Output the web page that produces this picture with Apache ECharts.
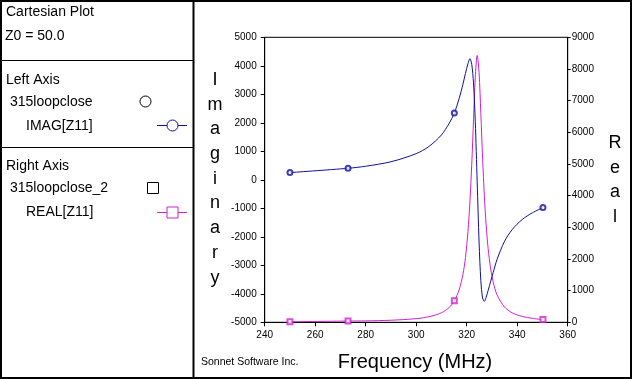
<!DOCTYPE html>
<html>
<head>
<meta charset="utf-8">
<script src="https://cdn.jsdelivr.net/npm/echarts@6/dist/echarts.min.js"></script>
<style>
html,body{margin:0;padding:0;background:#fff;}
#c{width:632px;height:379px;}
</style>
</head>
<body>
<div id="c"></div>
<script>
// Frequency sweep (MHz)
const freq = [250, 273, 280, 290, 300, 305, 310, 313, 315.1, 317, 318.5, 319.5, 320.5, 321.3, 322, 322.7, 323.4, 324.15, 324.9, 325.6, 326.3, 327, 327.7, 328.5, 329.5, 330.5, 332, 335, 338, 342, 346, 350.2];
// IMAG[Z11] (left axis)
const imagZ11 = [253, 404, 476, 633, 918, 1167, 1574, 1972, 2340, 2853, 3350, 3730, 4076, 4250, 4048, 3399, 2047, -70, -2187, -3539, -4150, -4263, -4120, -3880, -3560, -3250, -2799, -2156, -1749, -1392, -1159, -975];
// REAL[Z11] (right axis)
const realZ11 = [15, 40, 45, 65, 115, 175, 300, 465, 680, 1020, 1510, 2040, 2860, 3840, 4990, 6390, 7730, 8425, 7880, 6590, 5180, 3980, 3070, 2320, 1686, 1268, 870, 480, 300, 185, 125, 85];
// indices of sweep points that carry markers
const markerIdx = [0, 1, 8, 31];
const xTicks = {min: 240, max: 360, interval: 20};
const leftTicks = {min: -5000, max: 5000, interval: 1000};
const rightTicks = {min: 0, max: 9000, interval: 1000};

const BLUE = '#10109a';
const MAG = '#d020d0';
const FONT = 'Liberation Sans, Arial, sans-serif';

const chart = echarts.init(document.getElementById('c'), null, {renderer: 'canvas'});

const lineImag = freq.map((f, i) => [f, imagZ11[i]]);
const lineReal = freq.map((f, i) => [f, realZ11[i]]);
const mkImag = markerIdx.map(i => [freq[i], imagZ11[i]]);
const mkReal = markerIdx.map(i => [freq[i], realZ11[i]]);

const plain = v => String(v);
const axisCommon = {
  axisLine: {show: true, onZero: false, lineStyle: {color: '#000', width: 1}},
  axisTick: {show: true, inside: false, length: 4, lineStyle: {color: '#000'}},
  splitLine: {show: false},
  axisLabel: {color: '#000', fontSize: 10, fontFamily: FONT, formatter: plain}
};

const txt = (x, y, s, size) => ({
  type: 'text', x: x, y: y,
  style: {text: s, fill: '#000', font: size + 'px ' + FONT, textVerticalAlign: 'middle'}
});

const option = {
  animation: false,
  backgroundColor: '#fff',
  grid: {left: 264.7, right: 64.3, top: 37.3, bottom: 56.7, show: true, borderColor: '#000', borderWidth: 1, backgroundColor: 'transparent'},
  xAxis: Object.assign({}, axisCommon, {
    type: 'value', min: xTicks.min, max: xTicks.max, interval: xTicks.interval,
    axisLabel: Object.assign({}, axisCommon.axisLabel, {margin: 8})
  }),
  yAxis: [
    Object.assign({}, axisCommon, {
      type: 'value', position: 'left', min: leftTicks.min, max: leftTicks.max, interval: leftTicks.interval,
      axisLabel: Object.assign({}, axisCommon.axisLabel, {margin: 8})
    }),
    Object.assign({}, axisCommon, {
      type: 'value', position: 'right', min: rightTicks.min, max: rightTicks.max, interval: rightTicks.interval,
      axisTick: {show: true, inside: false, length: 3, lineStyle: {color: '#000'}},
      axisLabel: Object.assign({}, axisCommon.axisLabel, {margin: 4})
    })
  ],
  series: [
    {type: 'line', yAxisIndex: 0, data: lineImag, smooth: 0.3, showSymbol: false, lineStyle: {color: BLUE, width: 1}, z: 3},
    {type: 'line', yAxisIndex: 1, data: lineReal, smooth: 0.3, showSymbol: false, lineStyle: {color: MAG, width: 1}, z: 2},
    {type: 'scatter', yAxisIndex: 0, data: mkImag, symbol: 'emptyCircle', symbolSize: 5, itemStyle: {color: BLUE, borderColor: BLUE, borderWidth: 0.8}, z: 4},
    {type: 'scatter', yAxisIndex: 1, data: mkReal, symbol: 'emptyRect', symbolSize: 5, itemStyle: {color: MAG, borderColor: MAG, borderWidth: 0.8}, z: 4}
  ],
  graphic: [
    {type: 'rect', shape: {x: 1, y: 1, width: 630, height: 377}, style: {fill: 'none', stroke: '#000', lineWidth: 2}, silent: true},
    {type: 'line', shape: {x1: 193.5, y1: 0, x2: 193.5, y2: 379}, style: {stroke: '#000', lineWidth: 2}},
    {type: 'line', shape: {x1: 0, y1: 60.5, x2: 193, y2: 60.5}, style: {stroke: '#000', lineWidth: 1}},
    {type: 'line', shape: {x1: 0, y1: 147.5, x2: 193, y2: 147.5}, style: {stroke: '#000', lineWidth: 1}},
    txt(6, 12.5, 'Cartesian Plot', 14),
    txt(5, 36.5, 'Z0 = 50.0', 14),
    txt(6, 80, 'Left Axis', 14),
    txt(10, 102, '315loopclose', 14),
    txt(26, 126, 'IMAG[Z11]', 14),
    txt(6, 166, 'Right Axis', 14),
    txt(10, 188.5, '315loopclose_2', 14),
    txt(26, 212.5, 'REAL[Z11]', 14),
    {type: 'circle', shape: {cx: 145.5, cy: 101.5, r: 5.5}, style: {fill: '#fff', stroke: '#000', lineWidth: 1}},
    {type: 'line', shape: {x1: 157, y1: 125.5, x2: 187, y2: 125.5}, style: {stroke: BLUE, lineWidth: 1}},
    {type: 'circle', shape: {cx: 172.5, cy: 125.5, r: 5.5}, style: {fill: '#fff', stroke: BLUE, lineWidth: 1}},
    {type: 'rect', shape: {x: 147.5, y: 182.5, width: 11, height: 11}, style: {fill: '#fff', stroke: '#000', lineWidth: 1}},
    {type: 'line', shape: {x1: 157, y1: 212.5, x2: 187, y2: 212.5}, style: {stroke: MAG, lineWidth: 1}},
    {type: 'rect', shape: {x: 167, y: 207, width: 11, height: 11}, style: {fill: '#fff', stroke: MAG, lineWidth: 1}},
    {type: 'text', x: 215, y: 67.6, style: {text: 'Imaginary'.split('').join('\n'), fill: '#000', font: '18px ' + FONT, textAlign: 'center', textVerticalAlign: 'top', lineHeight: 24.7}},
    {type: 'text', x: 615, y: 130.6, style: {text: 'Real'.split('').join('\n'), fill: '#000', font: '18px ' + FONT, textAlign: 'center', textVerticalAlign: 'top', lineHeight: 24.7}},
    {type: 'text', x: 415, y: 362, style: {text: 'Frequency (MHz)', fill: '#000', font: '20px ' + FONT, textAlign: 'center', textVerticalAlign: 'middle'}},
    {type: 'text', x: 201, y: 362, style: {text: 'Sonnet Software Inc.', fill: '#000', font: '10.5px ' + FONT, textVerticalAlign: 'middle'}}
  ]
};
chart.setOption(option);
</script>
</body>
</html>
